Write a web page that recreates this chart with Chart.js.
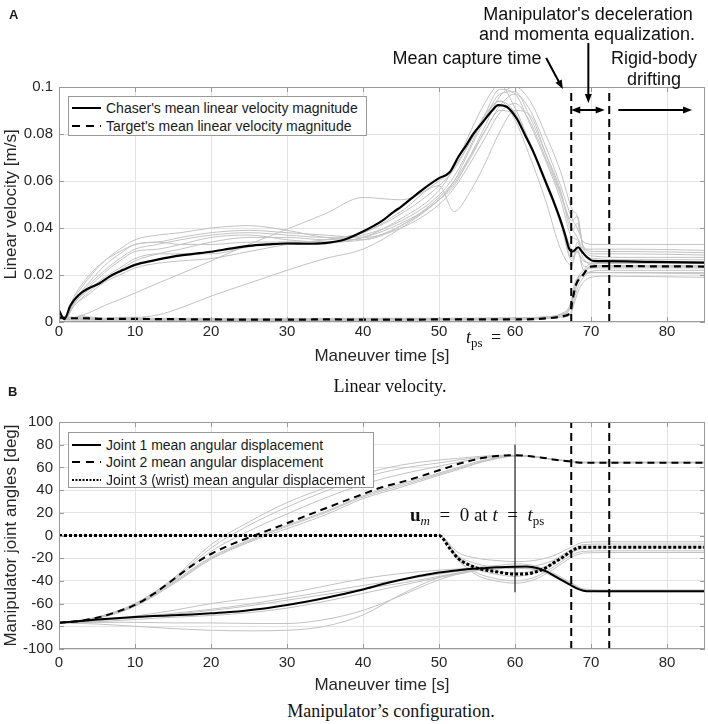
<!DOCTYPE html>
<html><head><meta charset="utf-8">
<script src="https://cdn.jsdelivr.net/npm/chart.js@4.4.1/dist/chart.umd.min.js"></script>
<style>
html,body{margin:0;padding:0;background:#fff;}
body{width:708px;height:724px;position:relative;overflow:hidden;font-family:"Liberation Sans",Arial,Helvetica,sans-serif;color:#1a1a1a;}
.t{position:absolute;white-space:nowrap;}
.ann{font-size:18px;line-height:18px;width:300px;text-align:center;color:#111;}
.cap{font-family:"Liberation Serif","Times New Roman",serif;font-size:18px;line-height:18px;width:400px;text-align:center;color:#111;}
.lg{position:absolute;background:#fff;border:1px solid #9a9a9a;box-sizing:border-box;}
.row{position:absolute;left:0;height:18px;line-height:18px;font-size:14px;color:#1a1a1a;white-space:nowrap;}
.row svg{position:absolute;left:3px;top:0;}
.row span{position:absolute;left:37px;top:0;}
.math{font-family:"Liberation Serif","Times New Roman",serif;color:#111;}
canvas{position:absolute;left:0;}
</style>
</head><body>
<canvas id="cA" width="708" height="370" style="top:0px"></canvas>
<canvas id="cB" width="708" height="320" style="top:380px"></canvas>

<div class="t" style="left:9px;top:8px;font-weight:bold;font-size:13px;line-height:13px;">A</div>
<div class="t" style="left:8px;top:385px;font-weight:bold;font-size:13px;line-height:13px;">B</div>

<div class="t ann" style="left:438px;top:5px;">Manipulator's deceleration</div>
<div class="t ann" style="left:437px;top:25px;">and momenta equalization.</div>
<div class="t ann" style="left:317px;top:49px;">Mean capture time</div>
<div class="t ann" style="left:504px;top:49px;">Rigid-body</div>
<div class="t ann" style="left:504px;top:70px;">drifting</div>

<div class="t math" style="left:466px;top:328px;font-size:18px;line-height:18px;"><i>t</i><span style="font-size:13px;position:relative;top:4px;">ps</span></div>
<div class="t math" style="left:491px;top:328px;font-size:18px;line-height:18px;">=</div>

<div class="t cap" style="left:190px;top:377px;">Linear velocity.</div>
<div class="t cap" style="left:191px;top:702px;">Manipulator’s configuration.</div>

<div class="t math" style="left:410px;top:505px;font-size:19px;line-height:19px;"><b>u</b><span style="font-size:13px;position:relative;top:4px;"><i>m</i></span>&ensp;=&ensp;0&nbsp;at&nbsp;<i>t</i>&ensp;=&ensp;<i>t</i><span style="font-size:13px;position:relative;top:4px;">ps</span></div>

<div class="lg" style="left:68px;top:96px;width:299px;height:40px;">
  <div class="row" style="top:2px;"><svg width="30" height="18"><line x1="0" y1="9" x2="29" y2="9" stroke="#000" stroke-width="2"/></svg><span>Chaser's mean linear velocity magnitude</span></div>
  <div class="row" style="top:20px;"><svg width="30" height="18"><line x1="0" y1="9" x2="29" y2="9" stroke="#000" stroke-width="2" stroke-dasharray="8 6"/></svg><span>Target's mean linear velocity magnitude</span></div>
</div>

<div class="lg" style="left:68px;top:432px;width:306px;height:56px;">
  <div class="row" style="top:2.5px;"><svg width="30" height="18"><line x1="0" y1="9" x2="29" y2="9" stroke="#000" stroke-width="2"/></svg><span>Joint 1 mean angular displacement</span></div>
  <div class="row" style="top:20px;"><svg width="30" height="18"><line x1="0" y1="9" x2="29" y2="9" stroke="#000" stroke-width="2" stroke-dasharray="8 6"/></svg><span>Joint 2 mean angular displacement</span></div>
  <div class="row" style="top:38px;"><svg width="30" height="18"><line x1="0" y1="9" x2="29" y2="9" stroke="#000" stroke-width="2" stroke-dasharray="2 1.5"/></svg><span>Joint 3 (wrist) mean angular displacement</span></div>
</div>

<script>
// ---------------- Panel A: linear velocity ----------------
const xTickValues = [0, 10, 20, 30, 40, 50, 60, 70, 80];
const xTickLabels = ['0', '10', '20', '30', '40', '50', '60', '70', '80'];
const yTickValuesA = [0, 0.02, 0.04, 0.06, 0.08, 0.1];
const yTickLabelsA = ['0', '0.02', '0.04', '0.06', '0.08', '0.1'];
const phaseTimes = [67.4, 72.4];

const chaserMeanTime = [0, 0.7, 1.5, 2.6, 4, 5.3, 7, 8.5, 10, 12.5, 15, 17.5, 20, 22.5, 25, 27.5, 30, 32.5, 35, 37.5, 40, 42.5, 44, 45, 47.5, 50, 51.4, 52.5, 53.6, 54.5, 55.8, 57, 57.8, 58.9, 60.2, 61.3, 62.4, 63.3, 64.2, 65, 65.9, 66.6, 67.1, 67.6, 68.3, 68.8, 69.4, 70.3, 72, 78, 85];
const chaserMeanVel = [0.0050, 0.0012, 0.0070, 0.0115, 0.0145, 0.0164, 0.0200, 0.0222, 0.0243, 0.0262, 0.0278, 0.0289, 0.0299, 0.0312, 0.0324, 0.0330, 0.0334, 0.0333, 0.0336, 0.0350, 0.0385, 0.0430, 0.0468, 0.0490, 0.0555, 0.0612, 0.0637, 0.0700, 0.0753, 0.0800, 0.0852, 0.0900, 0.0923, 0.0916, 0.0867, 0.0797, 0.0725, 0.0655, 0.0583, 0.0520, 0.0441, 0.0370, 0.0314, 0.0300, 0.0318, 0.0300, 0.0278, 0.0260, 0.0259, 0.0256, 0.0253];

const targetMeanTime = [0, 1, 3, 6, 10, 15, 20, 25, 30, 35, 40, 45, 50, 55, 60, 63, 65, 66.5, 67.3, 67.5, 68, 68.8, 69.9, 72, 78, 85];
const targetMeanVel = [0.0020, 0.0016, 0.0016, 0.0013, 0.0013, 0.0012, 0.0011, 0.0010, 0.0010, 0.0011, 0.0010, 0.0010, 0.0011, 0.0011, 0.0011, 0.0013, 0.0018, 0.0026, 0.0044, 0.0080, 0.0157, 0.0193, 0.0235, 0.0238, 0.0237, 0.0236];

const chaserTrialTime = [0, 0.7, 2, 4, 6, 8, 10, 13, 16, 20, 25, 30, 35, 40, 45, 50, 52, 54, 56, 58, 60, 62, 64, 66, 67.5, 68.2, 69, 70.5, 75, 85];
const chaserTrial1 = [0.004, 0.002, 0.010, 0.019, 0.026, 0.031, 0.035, 0.037, 0.038, 0.040, 0.041, 0.039, 0.036, 0.035, 0.041, 0.053, 0.060, 0.070, 0.081, 0.092, 0.097, 0.090, 0.075, 0.058, 0.044, 0.040, 0.034, 0.033, 0.033, 0.033];
const chaserTrial2 = [0.003, 0.002, 0.009, 0.017, 0.024, 0.029, 0.033, 0.034, 0.036, 0.038, 0.039, 0.038, 0.037, 0.036, 0.040, 0.050, 0.057, 0.067, 0.078, 0.089, 0.093, 0.085, 0.070, 0.054, 0.040, 0.036, 0.031, 0.031, 0.031, 0.0305];
const chaserTrial3 = [0.003, 0.001, 0.008, 0.015, 0.021, 0.026, 0.030, 0.031, 0.033, 0.036, 0.037, 0.035, 0.034, 0.035, 0.041, 0.052, 0.058, 0.070, 0.083, 0.096, 0.100, 0.094, 0.080, 0.064, 0.048, 0.045, 0.032, 0.029, 0.029, 0.0285];
const chaserTrial4 = [0.002, 0.001, 0.007, 0.013, 0.018, 0.022, 0.026, 0.029, 0.031, 0.034, 0.036, 0.036, 0.035, 0.037, 0.043, 0.054, 0.062, 0.074, 0.088, 0.099, 0.097, 0.084, 0.069, 0.052, 0.036, 0.035, 0.029, 0.027, 0.0265, 0.0265];
const chaserTrial5 = [0.004, 0.002, 0.008, 0.014, 0.019, 0.023, 0.027, 0.029, 0.029, 0.029, 0.032, 0.034, 0.034, 0.036, 0.044, 0.056, 0.066, 0.080, 0.093, 0.101, 0.091, 0.076, 0.061, 0.044, 0.031, 0.030, 0.026, 0.025, 0.025, 0.025];
const chaserTrial6 = [0.003, 0.001, 0.007, 0.012, 0.017, 0.020, 0.023, 0.025, 0.026, 0.027, 0.030, 0.033, 0.035, 0.038, 0.046, 0.058, 0.065, 0.076, 0.088, 0.094, 0.086, 0.070, 0.052, 0.031, 0.024, 0.034, 0.027, 0.024, 0.024, 0.024];
const chaserTrial7 = [0.003, 0.002, 0.009, 0.016, 0.022, 0.027, 0.031, 0.033, 0.035, 0.037, 0.038, 0.037, 0.036, 0.038, 0.047, 0.058, 0.047, 0.055, 0.067, 0.081, 0.090, 0.088, 0.072, 0.055, 0.043, 0.045, 0.031, 0.028, 0.0275, 0.0275];
const chaserTrial8 = [0.004, 0.002, 0.002, 0.004, 0.007, 0.0096, 0.0123, 0.0165, 0.0205, 0.026, 0.033, 0.0395, 0.046, 0.053, 0.052, 0.060, 0.066, 0.076, 0.087, 0.094, 0.089, 0.075, 0.059, 0.042, 0.026, 0.030, 0.024, 0.023, 0.023, 0.023];
const chaserTrial9 = [0.003, 0.001, 0.001, 0.001, 0.001, 0.002, 0.002, 0.003, 0.006, 0.011, 0.0165, 0.022, 0.027, 0.031, 0.040, 0.052, 0.059, 0.069, 0.081, 0.090, 0.088, 0.076, 0.060, 0.043, 0.027, 0.031, 0.022, 0.021, 0.021, 0.021];
const chaserTrial10 = [0.003, 0.002, 0.011, 0.020, 0.026, 0.030, 0.033, 0.034, 0.033, 0.033, 0.034, 0.034, 0.034, 0.036, 0.042, 0.052, 0.060, 0.073, 0.086, 0.097, 0.098, 0.087, 0.072, 0.056, 0.039, 0.042, 0.032, 0.030, 0.030, 0.0295];

const targetTrialTime = [0, 2, 3, 4, 6, 10, 20, 30, 40, 50, 60, 64, 66, 67.3, 67.8, 68.3, 69, 70, 72, 85];
const targetTrial1 = [0.002, 0.0015, 0.003, 0.0015, 0.0012, 0.0013, 0.0012, 0.0011, 0.0012, 0.0013, 0.0015, 0.002, 0.003, 0.006, 0.013, 0.018, 0.021, 0.024, 0.025, 0.025];
const targetTrial2 = [0.0015, 0.0012, 0.0012, 0.0012, 0.0010, 0.0010, 0.0009, 0.0008, 0.0009, 0.0010, 0.0012, 0.0017, 0.0025, 0.004, 0.010, 0.015, 0.019, 0.0215, 0.022, 0.022];
const targetTrial3 = [0.002, 0.0018, 0.0025, 0.0022, 0.0016, 0.0016, 0.0015, 0.0014, 0.0016, 0.0016, 0.0018, 0.0022, 0.0035, 0.008, 0.016, 0.019, 0.020, 0.021, 0.021, 0.0205];
const targetTrial4 = [0.001, 0.0008, 0.0008, 0.0008, 0.0007, 0.0007, 0.0006, 0.0006, 0.0007, 0.0008, 0.0009, 0.0014, 0.002, 0.003, 0.008, 0.013, 0.017, 0.019, 0.0195, 0.019];
const targetTrial5 = [0.0018, 0.0014, 0.0014, 0.0013, 0.0012, 0.0012, 0.0011, 0.0011, 0.0012, 0.0012, 0.0014, 0.0019, 0.003, 0.006, 0.012, 0.017, 0.021, 0.023, 0.0235, 0.0235];
const targetTrial6 = [0.0022, 0.002, 0.002, 0.0018, 0.0014, 0.0015, 0.0014, 0.0013, 0.0014, 0.0015, 0.0016, 0.0022, 0.0032, 0.007, 0.014, 0.019, 0.022, 0.025, 0.0255, 0.0255];

// ---------------- Panel B: manipulator joint angles ----------------
const yTickValuesB = [-100, -80, -60, -40, -20, 0, 20, 40, 60, 80, 100];
const yTickLabelsB = ['-100', '-80', '-60', '-40', '-20', '0', '20', '40', '60', '80', '100'];
const postStaticTime = 60;
const postStaticSpan = [-50, 80];

const jointMeanTime = [0, 2.5, 5, 7.5, 10, 12.5, 15, 17.5, 20, 22.5, 25, 27.5, 30, 35, 40, 42.5, 45, 47.5, 50, 51.4, 52.5, 54.5, 55.5, 57.6, 60, 61.5, 63, 64.2, 65, 66.2, 67.3, 68.2, 69, 70, 75, 85];
const joint1Mean = [-76.8, -75.5, -74, -72.8, -71.8, -71, -70.3, -69.5, -68.6, -67.5, -65.8, -63.8, -61.2, -55, -47.5, -43, -39, -35.5, -32.5, -31.5, -30.6, -29.3, -28.9, -28, -27.5, -27.4, -28.8, -31.9, -35, -39.5, -43.6, -46.8, -48.6, -49.1, -49.2, -49.2];
const joint2Mean = [-76.8, -75.5, -72.5, -67.5, -61.2, -51.2, -39, -26.5, -16.3, -8.4, -1.8, 4.5, 10.8, 23.8, 36.5, 42.5, 47, 52, 57.5, 60.5, 63, 66.5, 68, 70, 70.8, 70.2, 69, 68, 67, 66, 65.2, 64.4, 64.2, 64.2, 64.2, 64.2];
const joint3Mean = [0, 0, 0, 0, 0, 0, 0, 0, 0, 0, 0, 0, 0, 0, 0, 0, 0, 0, 0, -11.3, -20, -27.5, -29.5, -32, -34, -33.8, -31.5, -28, -24.5, -19.5, -14.3, -11, -10.4, -10.4, -10.4, -10.4];

const jointTrialTime = [0, 5, 10, 15, 20, 25, 30, 35, 40, 45, 50, 52.5, 55, 57.5, 60, 62.5, 65, 67.5, 69, 72, 85];
const joint1Trial1 = [-77, -78, -80, -82, -83.5, -84, -83.5, -80, -70, -52, -37, -33, -30.5, -29.5, -29, -30, -36, -44.5, -48, -49, -49];
const joint1Trial2 = [-77, -76, -74, -72, -70.5, -68, -64, -58, -51, -44, -37, -34, -31, -29.5, -28.5, -29.5, -35, -44, -48, -49.5, -49.5];
const joint1Trial3 = [-77, -75, -72.5, -69.5, -66, -62, -57, -52, -47, -42, -36, -33, -30, -28.5, -27.5, -28.5, -34, -43, -47.5, -48.5, -48.5];
const joint1Trial4 = [-77, -75, -71, -66, -60, -55.5, -51, -44.5, -38, -33.5, -30.5, -29.5, -28, -26.5, -25, -26.5, -33, -42, -47, -48, -48];
const joint1Trial5 = [-77, -75, -72, -68.5, -65, -60.5, -55, -49.5, -44, -39, -34, -31.5, -29.5, -28, -27, -28, -34, -44, -48, -49, -49];
const joint1Trial6 = [-77, -76.5, -76.5, -77, -77, -77.5, -77.5, -74, -66, -53, -39, -34, -30.5, -29, -28, -29.5, -35, -45, -48.5, -49.5, -49.5];
const joint2Trial1 = [-77, -72, -60, -38, -8, 12, 29, 42, 54, 62, 66.5, 68, 69.5, 70.5, 70.8, 69.5, 67, 65.5, 64.5, 64.5, 64.5];
const joint2Trial2 = [-77, -72, -60, -39, -11, 9, 25, 39, 51, 59, 64, 66.5, 68.5, 70, 70.5, 69.5, 67, 65.3, 64.3, 64.3, 64.3];
const joint2Trial3 = [-77, -72.5, -61, -40, -14, 4, 19, 33, 45, 54, 61, 64.5, 67.5, 69.5, 70.5, 69.5, 67, 65, 64, 64, 64];
const joint2Trial4 = [-77, -73, -62, -42, -20, -5, 8, 20, 34, 44, 54, 59, 64, 68, 70, 69.5, 67, 65.5, 64.5, 64.5, 64.5];
const joint2Trial5 = [-77, -73, -62.5, -43, -21, -6, 6, 18, 32.5, 42.5, 53, 58, 63.5, 67.5, 70, 69.5, 67, 65.2, 64.2, 64.2, 64.2];
const joint2Trial6 = [-77, -72.5, -61.5, -41, -19, -4, 9, 21, 35, 45.5, 55, 60, 65, 68.5, 70.3, 69.5, 67, 65.4, 64.4, 64.4, 64.4];
const joint3Trial1 = [0, 0, 0, 0, 0, 0, 0, 0, 0, 0, 0, -15, -20, -22, -23, -22, -18, -10, -6, -5.5, -5.5];
const joint3Trial2 = [0, 0, 0, 0, 0, 0, 0, 0, 0, 0, 0, -18, -25, -28, -29, -27, -22, -12, -8, -7.5, -7.5];
const joint3Trial3 = [0, 0, 0, 0, 0, 0, 0, 0, 0, 0, 0, -20, -30, -34, -36, -33, -25, -15, -11.5, -11, -11];
const joint3Trial4 = [0, 0, 0, 0, 0, 0, 0, 0, 0, 0, 0, -22, -33, -38, -40, -37, -28, -17, -14, -13.5, -13.5];
const joint3Trial5 = [0, 0, 0, 0, 0, 0, 0, 0, 0, 0, 0, -21, -35, -40, -42, -39, -30, -19, -15.5, -15, -15];
const joint3Trial6 = [0, 0, 0, 0, 0, 0, 0, 0, 0, 0, 0, -19, -28, -32, -33, -31, -24, -14, -10, -9.5, -9.5];

// ---------------- helpers ----------------
const FONT = "'Liberation Sans', Arial, Helvetica, sans-serif";
const TXT = '#262626';
const GRAY = '#c2c2c2';
Chart.defaults.font.family = FONT;

function pts(xs, ys) { return xs.map((x, i) => ({ x: x, y: ys[i] })); }
function grayDs(xs, ys) {
  return { data: pts(xs, ys), borderColor: GRAY, borderWidth: 1, pointRadius: 0, cubicInterpolationMode: 'monotone', order: 10 };
}
function meanDs(xs, ys, dash, width) {
  return { data: pts(xs, ys), borderColor: '#000', borderWidth: width || 2, borderDash: dash || [], pointRadius: 0, cubicInterpolationMode: 'monotone', order: 2 };
}
function vline(x, y0, y1, dash, width) {
  return { data: pts([x, x], [y0, y1]), borderColor: '#000', borderWidth: width, borderDash: dash, pointRadius: 0, order: 1 };
}

const boxPlugin = {
  id: 'box',
  afterDraw(chart) {
    const { ctx, chartArea: a, scales } = chart;
    const L = 5;
    ctx.save();
    ctx.strokeStyle = '#9a9a9a';
    ctx.lineWidth = 1;
    ctx.strokeRect(Math.round(a.left) + 0.5, Math.round(a.top) + 0.5, Math.round(a.right - a.left) - 1, Math.round(a.bottom - a.top) - 1);
    ctx.beginPath();
    scales.x.ticks.forEach(t => {
      const p = Math.round(scales.x.getPixelForValue(t.value)) + 0.5;
      ctx.moveTo(p, a.bottom); ctx.lineTo(p, a.bottom - L);
      ctx.moveTo(p, a.top); ctx.lineTo(p, a.top + L);
    });
    scales.y.ticks.forEach(t => {
      const p = Math.round(scales.y.getPixelForValue(t.value)) + 0.5;
      ctx.moveTo(a.left, p); ctx.lineTo(a.left + L, p);
      ctx.moveTo(a.right, p); ctx.lineTo(a.right - L, p);
    });
    ctx.stroke();
    ctx.restore();
  }
};

function drawArrow(ctx, x1, y1, x2, y2, both) {
  const hl = 9, hw = 3.5;
  const ang = Math.atan2(y2 - y1, x2 - x1);
  const head = (tx, ty, a) => {
    ctx.beginPath();
    ctx.moveTo(tx, ty);
    ctx.lineTo(tx - hl * Math.cos(a) + hw * Math.sin(a), ty - hl * Math.sin(a) - hw * Math.cos(a));
    ctx.lineTo(tx - hl * Math.cos(a) - hw * Math.sin(a), ty - hl * Math.sin(a) + hw * Math.cos(a));
    ctx.closePath();
    ctx.fill();
  };
  ctx.beginPath();
  const sx = both ? x1 + (hl - 2) * Math.cos(ang) : x1, sy = both ? y1 + (hl - 2) * Math.sin(ang) : y1;
  ctx.moveTo(sx, sy);
  ctx.lineTo(x2 - (hl - 2) * Math.cos(ang), y2 - (hl - 2) * Math.sin(ang));
  ctx.stroke();
  head(x2, y2, ang);
  if (both) head(x1, y1, ang + Math.PI);
}

const arrowPlugin = {
  id: 'arrows',
  afterDraw(chart) {
    const { ctx, scales: { x, y } } = chart;
    const arrows = [
      { a: [67.4, 0.0902], b: [71.8, 0.0902], both: true },
      { a: [73.6, 0.0902], b: [83.3, 0.0902] },
      { a: [69.65, 0.1187], b: [69.65, 0.0932] },
      { a: [64.1, 0.1123], b: [66.3, 0.0991] }
    ];
    ctx.save();
    ctx.strokeStyle = '#000'; ctx.fillStyle = '#000'; ctx.lineWidth = 2;
    arrows.forEach(ar => {
      drawArrow(ctx, x.getPixelForValue(ar.a[0]), y.getPixelForValue(ar.a[1]),
                     x.getPixelForValue(ar.b[0]), y.getPixelForValue(ar.b[1]), ar.both);
    });
    ctx.restore();
  }
};

function xScale(tickPad, height, titlePad) {
  return {
    type: 'linear', min: 0, max: 85,
    afterBuildTicks: s => { s.ticks = xTickValues.map(v => ({ value: v })); },
    ticks: { callback: (v, i) => xTickLabels[i], font: { size: 15 }, color: TXT, padding: tickPad, maxRotation: 0, autoSkip: false },
    grid: { color: '#e3e3e3', drawTicks: false },
    border: { display: false },
    title: { display: true, text: 'Maneuver time [s]', font: { size: 17 }, color: TXT, padding: { top: 0, bottom: titlePad } },
    afterFit: s => { s.height = height; }
  };
}
function yScale(min, max, vals, labels, title) {
  return {
    type: 'linear', min: min, max: max,
    afterBuildTicks: s => { s.ticks = vals.map(v => ({ value: v })); },
    ticks: { callback: (v, i) => labels[i], font: { size: 15 }, color: TXT, padding: 6, autoSkip: false },
    grid: { color: '#e3e3e3', drawTicks: false },
    border: { display: false },
    title: { display: true, text: title, font: { size: 17 }, color: TXT, padding: { top: 1, bottom: 0 } },
    afterFit: s => { s.width = 59; }
  };
}
const common = {
  responsive: false, animation: false, devicePixelRatio: 1,
  plugins: { legend: { display: false }, tooltip: { enabled: false } },
  elements: { line: { borderCapStyle: 'butt' } }
};

new Chart(document.getElementById('cA'), {
  type: 'line',
  data: {
    datasets: [
      vline(phaseTimes[0], 0, 0.1, [8, 5], 2),
      vline(phaseTimes[1], 0, 0.1, [8, 5], 2),
      meanDs(chaserMeanTime, chaserMeanVel, [], 2.2),
      meanDs(targetMeanTime, targetMeanVel, [7, 5], 2.2),
      grayDs(chaserTrialTime, chaserTrial1), grayDs(chaserTrialTime, chaserTrial2),
      grayDs(chaserTrialTime, chaserTrial3), grayDs(chaserTrialTime, chaserTrial4),
      grayDs(chaserTrialTime, chaserTrial5), grayDs(chaserTrialTime, chaserTrial6),
      grayDs(chaserTrialTime, chaserTrial7), grayDs(chaserTrialTime, chaserTrial8),
      grayDs(chaserTrialTime, chaserTrial9), grayDs(chaserTrialTime, chaserTrial10),
      grayDs(targetTrialTime, targetTrial1), grayDs(targetTrialTime, targetTrial2),
      grayDs(targetTrialTime, targetTrial3), grayDs(targetTrialTime, targetTrial4),
      grayDs(targetTrialTime, targetTrial5), grayDs(targetTrialTime, targetTrial6)
    ]
  },
  options: Object.assign({}, common, {
    layout: { padding: { top: 87, right: 3, left: 0, bottom: 0 } },
    scales: {
      x: xScale(1, 48, 3),
      y: yScale(0, 0.1, yTickValuesA, yTickLabelsA, 'Linear velocity [m/s]')
    }
  }),
  plugins: [boxPlugin, arrowPlugin]
});

new Chart(document.getElementById('cB'), {
  type: 'line',
  data: {
    datasets: [
      vline(phaseTimes[0], -100, 100, [8, 5], 2),
      vline(phaseTimes[1], -100, 100, [8, 5], 2),
      vline(postStaticTime, postStaticSpan[0], postStaticSpan[1], [], 1),
      meanDs(jointMeanTime, joint1Mean, [], 2),
      meanDs(jointMeanTime, joint2Mean, [7, 5], 2),
      meanDs(jointMeanTime, joint3Mean, [3, 2], 3),
      grayDs(jointTrialTime, joint1Trial1), grayDs(jointTrialTime, joint1Trial2),
      grayDs(jointTrialTime, joint1Trial3), grayDs(jointTrialTime, joint1Trial4),
      grayDs(jointTrialTime, joint1Trial5), grayDs(jointTrialTime, joint1Trial6),
      grayDs(jointTrialTime, joint2Trial1), grayDs(jointTrialTime, joint2Trial2),
      grayDs(jointTrialTime, joint2Trial3), grayDs(jointTrialTime, joint2Trial4),
      grayDs(jointTrialTime, joint2Trial5), grayDs(jointTrialTime, joint2Trial6),
      grayDs(jointTrialTime, joint3Trial1), grayDs(jointTrialTime, joint3Trial2),
      grayDs(jointTrialTime, joint3Trial3), grayDs(jointTrialTime, joint3Trial4),
      grayDs(jointTrialTime, joint3Trial5), grayDs(jointTrialTime, joint3Trial6)
    ]
  },
  options: Object.assign({}, common, {
    layout: { padding: { top: 42, right: 3, left: 0, bottom: 0 } },
    scales: {
      x: xScale(5, 51, 4),
      y: yScale(-100, 100, yTickValuesB, yTickLabelsB, 'Manipulator joint angles [deg]')
    }
  }),
  plugins: [boxPlugin]
});
</script>
</body></html>
